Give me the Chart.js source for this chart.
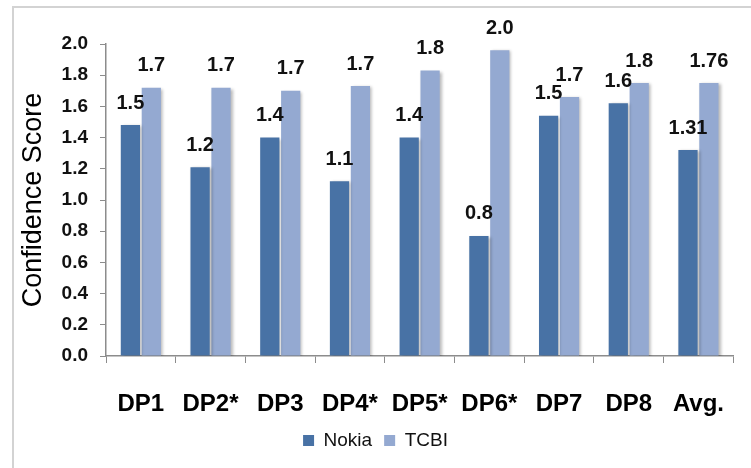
<!DOCTYPE html>
<html>
<head>
<meta charset="utf-8">
<script src="https://cdn.jsdelivr.net/npm/chart.js@4"></script>
<style>
    html, body { margin: 0; padding: 0; background: #ffffff; overflow: hidden; }
    #wrap { position: absolute; left: 0; top: 0; width: 751px; height: 468px; }
</style>
</head>
<body>
<div id="wrap"><canvas id="score-chart" width="751" height="468"></canvas></div>
<script>
const categories = ["DP1", "DP2*", "DP3", "DP4*", "DP5*", "DP6*", "DP7", "DP8", "Avg."];
const nokiaValues = [1.48, 1.21, 1.40, 1.12, 1.40, 0.77, 1.54, 1.62, 1.32];
const tcbiValues = [1.72, 1.72, 1.70, 1.73, 1.83, 1.96, 1.66, 1.75, 1.75];
const nokiaLabels = ["1.5", "1.2", "1.4", "1.1", "1.4", "0.8", "1.5", "1.6", "1.31"];
const tcbiLabels = ["1.7", "1.7", "1.7", "1.7", "1.8", "2.0", "1.7", "1.8", "1.76"];
const yTicks = [0.0, 0.2, 0.4, 0.6, 0.8, 1.0, 1.2, 1.4, 1.6, 1.8, 2.0];

const FONT = '"Liberation Sans", Arial, sans-serif';
const AXIS_GREY = "#8c8c8c";

// grey frame round the whole chart (only left + top show in the window)
const framePlugin = {
    id: "frame",
    beforeDraw(chart) {
        const ctx = chart.ctx;
        ctx.save();
        ctx.strokeStyle = "#d3d3d3";
        ctx.lineWidth = 2;
        ctx.strokeRect(13, 7, 900, 900);
        ctx.restore();
    }
};

// soft shadow on bars, then value labels above them
const barLabelPlugin = {
    id: "barLabels",
    beforeDatasetsDraw(chart) {
        const ctx = chart.ctx;
        ctx.save();
        ctx.shadowColor = "rgba(0, 0, 0, 0.28)";
        ctx.shadowOffsetX = 2;
        ctx.shadowOffsetY = 1;
        ctx.shadowBlur = 3;
    },
    afterDatasetsDraw(chart) {
        const ctx = chart.ctx;
        ctx.restore();
        const labelSets = [nokiaLabels, tcbiLabels];
        ctx.save();
        ctx.fillStyle = "#111111";
        ctx.font = "bold 20px " + FONT;
        ctx.textAlign = "center";
        ctx.textBaseline = "middle";
        chart.data.datasets.forEach(function (dataset, di) {
            const meta = chart.getDatasetMeta(di);
            meta.data.forEach(function (bar, i) {
                ctx.fillText(labelSets[di][i], bar.x, bar.y - 22);
            });
        });
        ctx.restore();
    }
};

let scoreChart = new Chart(
    document.getElementById("score-chart"),
    {
        type: "bar",
        data: {
            labels: categories,
            datasets: [
                {
                    label: "Nokia",
                    data: nokiaValues,
                    backgroundColor: "#4872a5",
                    categoryPercentage: 0.6,
                    barPercentage: 0.92
                },
                {
                    label: "TCBI",
                    data: tcbiValues,
                    backgroundColor: "#94a9d1",
                    categoryPercentage: 0.6,
                    barPercentage: 0.92
                }
            ]
        },
        plugins: [framePlugin, barLabelPlugin],
        options: {
            responsive: false,
            animation: false,
            devicePixelRatio: 1,
            layout: {
                padding: { left: 0, right: 0, top: 44, bottom: 8 }
            },
            scales: {
                x: {
                    afterFit(scale) {
                        scale.height = 63;
                    },
                    grid: {
                        offset: true,
                        drawOnChartArea: false,
                        color: AXIS_GREY,
                        tickLength: 7
                    },
                    border: { color: AXIS_GREY, width: 1.5 },
                    ticks: {
                        color: "#000000",
                        padding: 27,
                        font: { family: FONT, size: 24, weight: "bold" }
                    }
                },
                y: {
                    min: 0,
                    max: 2,
                    afterFit(scale) {
                        scale.width = 106;
                    },
                    afterBuildTicks(scale) {
                        scale.ticks = yTicks.map(v => ({ value: v }));
                    },
                    grid: {
                        drawOnChartArea: false,
                        color: AXIS_GREY,
                        tickLength: 6
                    },
                    border: { color: AXIS_GREY, width: 1.5 },
                    ticks: {
                        color: "#111111",
                        padding: 12,
                        font: { family: FONT, size: 19, weight: "bold" },
                        callback: v => Number(v).toFixed(1)
                    },
                    title: {
                        display: true,
                        text: "Confidence Score",
                        color: "#000000",
                        padding: { top: 17, bottom: 0 },
                        font: { family: FONT, size: 27 }
                    }
                }
            },
            plugins: {
                legend: {
                    position: "bottom",
                    labels: {
                        boxWidth: 11,
                        boxHeight: 11,
                        padding: 12,
                        color: "#111111",
                        font: { family: FONT, size: 19 }
                    }
                },
                tooltip: { enabled: false }
            }
        }
    }
);
</script>
</body>
</html>
